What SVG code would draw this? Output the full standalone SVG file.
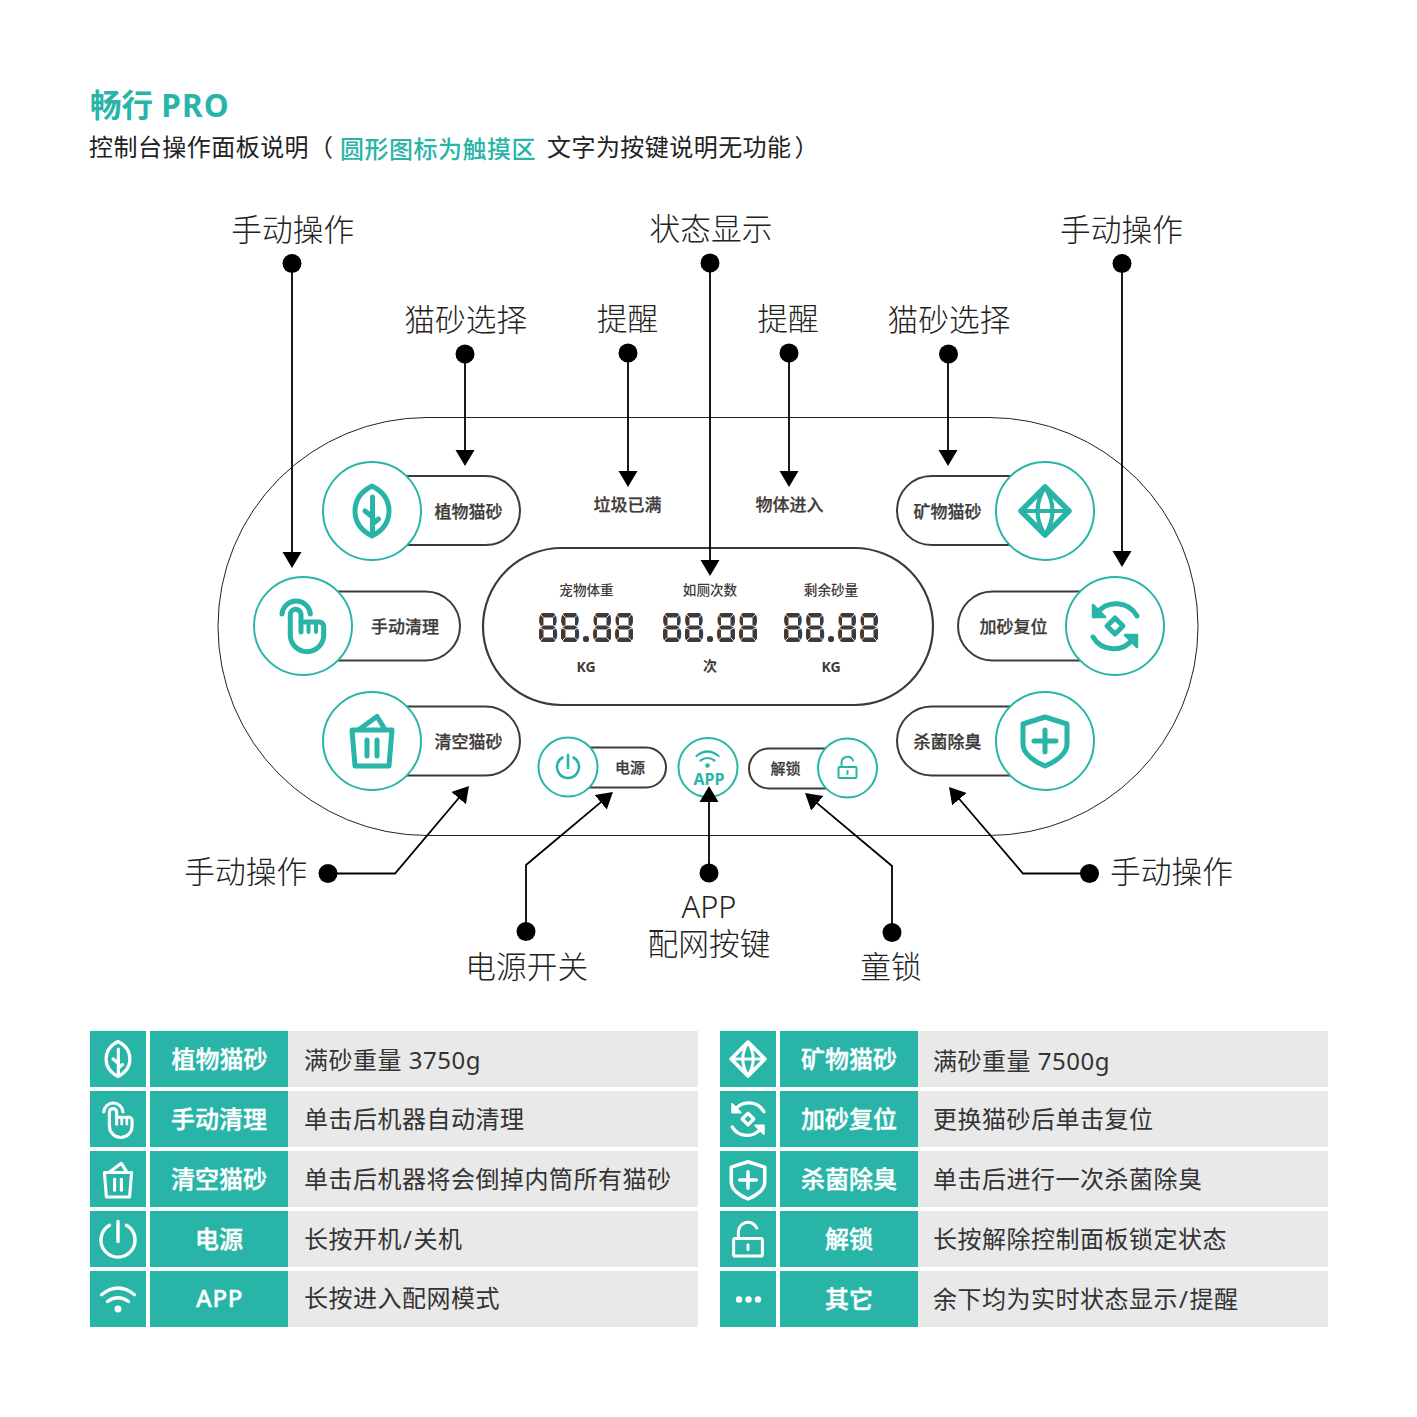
<svg xmlns="http://www.w3.org/2000/svg" width="1417" height="1417" viewBox="0 0 1417 1417">
<style>
text{font-family:"Noto Sans","Noto Sans CJK SC",sans-serif}
.title{font-size:31.5px;font-weight:700;fill:#28b5a8}
.sub{font-size:24px;fill:#222;letter-spacing:.45px}
.subt{font-size:24px;font-weight:500;fill:#28b5a8;letter-spacing:.5px}
.call{font-size:30.7px;font-weight:300;fill:#222;text-anchor:middle}
.pl{font-size:17px;font-weight:500;fill:#3e3a39;stroke:#3e3a39;stroke-width:.25px;text-anchor:middle}
.ps{font-size:15px;font-weight:500;fill:#3e3a39;stroke:#3e3a39;stroke-width:.25px;text-anchor:middle}
.lc{font-size:13.6px;font-weight:500;fill:#3e3a39;text-anchor:middle}
.un{font-size:14px;font-weight:700;fill:#3e3a39;text-anchor:middle}
.lcd{font-family:"DejaVu Sans Mono",monospace;font-size:39px;font-weight:700;fill:#3e3a39;stroke:#3e3a39;stroke-width:2.4px}
.tl{font-size:24px;font-weight:500;fill:#fff;stroke:#fff;stroke-width:.4px;text-anchor:middle}
.td{font-size:24px;fill:#333;letter-spacing:.5px}
.outer{fill:none;stroke:#222;stroke-width:1}
.pill{fill:#fff;stroke:#3e3a39;stroke-width:2}
.lcdb{fill:#fff;stroke:#3e3a39;stroke-width:2.2}
.ring{fill:#fff;stroke:#28b5a8;stroke-width:2}
.ic{--c:#28b5a8;fill:none;stroke:#28b5a8;stroke-width:5;stroke-linecap:round;stroke-linejoin:round}
.tic{--c:#fff;fill:none;stroke:#fff;stroke-width:4.6;stroke-linecap:round;stroke-linejoin:round}
.ahf{fill:var(--c)}
.tif{fill:#fff;stroke:none}
.teal{fill:#28b5a8}
.gray{fill:#e9e9e9}
.con{fill:none;stroke:#000;stroke-width:1.8;marker-end:url(#ah)}
.dot{fill:#000}
.slit{fill:none;stroke:#fff;stroke-width:.9}
.hole{fill:#fff}
</style>
<defs>
<marker id="ah" markerUnits="userSpaceOnUse" markerWidth="20" markerHeight="20" refX="12" refY="10" orient="auto"><path d="M0,0.5 L16,10 L0,19.5Z" fill="#000"/></marker>
<clipPath id="lc"><rect x="0" y="0" width="18.500" height="29"/><rect x="22" y="0" width="18.500" height="29"/><circle cx="47" cy="26" r="3"/><rect x="53.500" y="0" width="18.500" height="29"/><rect x="75.500" y="0" width="18.500" height="29"/></clipPath>
<g id="i-leaf"><path d="M0,-25 C12,-19 17,-10 17,0 C17,10 12,19 0,25 C-12,19 -17,10 -17,0 C-17,-10 -12,-19 0,-25Z"/><path d="M.5,-14 V22 M.5,6 L-7,0 M.5,13 L6.500,8"/></g>
<g id="i-hand"><path d="M-21,-12 A14.2,14.2 0 0 1 7.300,-12"/><path d="M-12.700,9 V-12 A5.400,5.400 0 0 1 -2,-12 V6"/><path d="M-2,-4 H16 A4.700,4.700 0 0 1 20.700,.7 V9 A16.700,16.700 0 0 1 -12.700,9"/><path d="M5.500,-4 V6 M13,-4 V6" stroke-width="4"/></g>
<g id="i-bask"><path d="M-20,-11 H20 L17,25 H-17Z"/><path d="M-13,-11.500 L5,-24.500 L13,-11.500"/><path d="M-5,-1 V15 M5,-1 V15"/></g>
<g id="i-dia"><path d="M0,-24 L24,0 L0,24 L-24,0Z" stroke-width="5.500"/><path d="M0,-24 Q-15,0 0,24 M0,-24 Q15,0 0,24 M-24,0 H24" stroke-width="4.200"/></g>
<g id="i-reset"><path d="M22,-10 A24,24 0 0 0 -18,-13"/><path class="ahf" d="M-22,-21 V-9 H-10Z" stroke-width="2.500"/><path d="M-22,11 A24,24 0 0 0 18,13"/><path class="ahf" d="M22,21 V9 H10Z" stroke-width="2.500"/><path d="M0,-8 L8,0 L0,8 L-8,0Z"/></g>
<g id="i-shield"><path d="M0,-24 L22,-17 V3 C22,13 10,21 0,25 C-10,21 -22,13 -22,3 V-17Z"/><path d="M-11,0 H11 M0,-11 V11"/></g>
<g id="i-power"><path d="M-5.500,-9.500 A11,11 0 1 0 5.500,-9.500"/><path d="M0,-12 V1"/></g>
<g id="i-wifi"><path d="M-11,-9.500 Q0,-18.500 11,-9.500 M-7,-5 Q0,-10 7,-5"/><circle cx="0" cy="0" r="1.200"/></g>
<g id="i-lock"><rect x="-9" y="-1" width="18" height="11" rx="1"/><path d="M-6,-1 V-5 A6,6 0 0 1 5.500,-7.500 M0,3 V6"/></g>
<g id="seg"><rect class="hole" x="4.500" y="4.500" width="9.500" height="8"/><rect class="hole" x="4.500" y="16.500" width="9.500" height="8"/><path class="slit" d="M0,0 L4.500,4.500 M18.500,0 L14,4.500 M0,29 L4.500,24.500 M18.500,29 L14,24.500 M4.500,12.500 L0,14.500 M14,12.500 L18.500,14.500 M4.500,16.500 L0,14.500 M14,16.500 L18.500,14.500"/></g>
<g id="segs"><use href="#seg" x="0"/><use href="#seg" x="22"/><use href="#seg" x="53.500"/><use href="#seg" x="75.500"/></g>
</defs>
<rect width="1417" height="1417" fill="#fff"/>
<g id="header">
<text class="title" x="90" y="117">畅行 <tspan letter-spacing="1.200">PRO</tspan></text>
<text class="sub" x="89" y="156">控制台操作面板说明（</text>
<text class="subt" x="340" y="157.500">圆形图标为触摸区</text>
<text class="sub" x="547" y="156">文字为按键说明无功能<tspan dx="3">）</tspan></text>
</g>
<g id="panel"><rect class="outer" x="218" y="417.500" width="980" height="418" rx="209" ry="209"/></g>
<g id="btn-plant"><rect class="pill" x="372" y="476" width="148" height="69" rx="34.500"/><circle class="ring" cx="372" cy="511" r="49"/><use href="#i-leaf" class="ic" transform="translate(372,511)"/><text class="pl" x="468.500" y="517.700">植物猫砂</text></g>
<g id="btn-manual"><rect class="pill" x="303" y="591.500" width="157" height="69" rx="34.500"/><circle class="ring" cx="303" cy="626" r="49"/><use href="#i-hand" class="ic" transform="translate(303,626)"/><text class="pl" x="405" y="632.700">手动清理</text></g>
<g id="btn-empty"><rect class="pill" x="372" y="706.500" width="148" height="69" rx="34.500"/><circle class="ring" cx="372" cy="741" r="49"/><use href="#i-bask" class="ic" transform="translate(372,741)"/><text class="pl" x="468.500" y="747.700">清空猫砂</text></g>
<g id="btn-mineral"><rect class="pill" x="897" y="476" width="148" height="69" rx="34.500"/><circle class="ring" cx="1045" cy="511" r="49"/><use href="#i-dia" class="ic" transform="translate(1045,511)"/><text class="pl" x="947.500" y="517.700">矿物猫砂</text></g>
<g id="btn-reset"><rect class="pill" x="958" y="591.500" width="157" height="69" rx="34.500"/><circle class="ring" cx="1115" cy="626" r="49"/><use href="#i-reset" class="ic" transform="translate(1115,626)"/><text class="pl" x="1013.500" y="632.700">加砂复位</text></g>
<g id="btn-sterilize"><rect class="pill" x="897" y="706.500" width="148" height="69" rx="34.500"/><circle class="ring" cx="1045" cy="741" r="49"/><use href="#i-shield" class="ic" transform="translate(1045,741)"/><text class="pl" x="947.500" y="747.700">杀菌除臭</text></g>
<g id="lamp-full"><text class="pl" x="627.500" y="510.700">垃圾已满</text></g>
<g id="lamp-object"><text class="pl" x="789.500" y="510.700">物体进入</text></g>
<g id="lcd">
<rect class="lcdb" x="483" y="548" width="450" height="157" rx="78.500"/>
<text class="lc" x="586.500" y="595">宠物体重</text><text class="lc" x="710" y="595">如厕次数</text><text class="lc" x="831" y="595">剩余砂量</text>
<g transform="translate(539,613)"><g clip-path="url(#lc)"><text class="lcd" transform="translate(-1.800,29) scale(.9,1)" x="0 24.400 42.200 60.600 85" y="0">88.88</text></g><use href="#segs"/></g>
<g transform="translate(663,613)"><g clip-path="url(#lc)"><text class="lcd" transform="translate(-1.800,29) scale(.9,1)" x="0 24.400 42.200 60.600 85" y="0">88.88</text></g><use href="#segs"/></g>
<g transform="translate(784,613)"><g clip-path="url(#lc)"><text class="lcd" transform="translate(-1.800,29) scale(.9,1)" x="0 24.400 42.200 60.600 85" y="0">88.88</text></g><use href="#segs"/></g>
<text class="un" x="586" y="672">KG</text><text class="un" x="710" y="671">次</text><text class="un" x="831" y="672">KG</text>
</g>
<g id="btn-power"><rect class="pill" x="568" y="747.500" width="98" height="40" rx="20"/><circle class="ring" cx="568" cy="767" r="29.500"/><use href="#i-power" class="ic" style="stroke-width:2.600" transform="translate(568,767)"/><text class="ps" x="630" y="773">电源</text></g>
<g id="btn-app"><circle class="ring" cx="708" cy="767.500" r="29.500"/><use href="#i-wifi" class="ic" style="stroke-width:2.200" transform="translate(707.500,765.500)"/><text x="709" y="785" font-size="16" font-weight="700" fill="#28b5a8" text-anchor="middle">APP</text></g>
<g id="btn-lock"><rect class="pill" x="749" y="748.500" width="98" height="40" rx="20"/><circle class="ring" cx="847.500" cy="768" r="29.500"/><use href="#i-lock" class="ic" style="stroke-width:2" transform="translate(847.500,768)"/><text class="ps" x="785.500" y="774">解锁</text></g>
<g id="callouts">
<text class="call" x="292.700" y="241">手动操作</text>
<text class="call" x="711" y="240">状态显示</text>
<text class="call" x="1121.500" y="241">手动操作</text>
<text class="call" x="465.700" y="331">猫砂选择</text>
<text class="call" x="627.500" y="330">提醒</text>
<text class="call" x="788" y="330">提醒</text>
<text class="call" x="949" y="331">猫砂选择</text>
<text class="call" x="245.700" y="883">手动操作</text>
<text class="call" x="1171.500" y="883">手动操作</text>
<text class="call" x="526.700" y="978">电源开关</text>
<text class="call" x="709" y="918">APP</text>
<text class="call" x="709" y="955">配网按键</text>
<text class="call" x="891" y="978">童锁</text>
</g>
<g id="connectors">
<path class="con" d="M292,263 V564"/><circle class="dot" cx="292" cy="263.500" r="9.500"/>
<path class="con" d="M710,263 V572"/><circle class="dot" cx="710" cy="263" r="9.500"/>
<path class="con" d="M1122,263 V563"/><circle class="dot" cx="1122" cy="263.500" r="9.500"/>
<path class="con" d="M465,354 V462"/><circle class="dot" cx="465" cy="354" r="9.500"/>
<path class="con" d="M628,353 V483"/><circle class="dot" cx="628" cy="353" r="9.500"/>
<path class="con" d="M789,353 V483"/><circle class="dot" cx="789" cy="353" r="9.500"/>
<path class="con" d="M948,354 V462"/><circle class="dot" cx="948.500" cy="354" r="9.500"/>
<path class="con" d="M328,873.500 H395 L466.400,789"/><circle class="dot" cx="328" cy="873.500" r="9.500"/>
<path class="con" d="M526,931 V865 L609.900,794.600"/><circle class="dot" cx="526" cy="931.500" r="9.500"/>
<path class="con" d="M709,873 V790"/><circle class="dot" cx="709" cy="873" r="9.500"/>
<path class="con" d="M892,932 V866 L808.100,795.600"/><circle class="dot" cx="892" cy="932.500" r="9.500"/>
<path class="con" d="M1089,873.500 H1023 L951.600,790"/><circle class="dot" cx="1089.500" cy="873.500" r="9.500"/>
</g>
<g id="table-left">
<g id="row-plant"><rect class="teal" x="90" y="1031" width="56" height="56"/><rect class="teal" x="150" y="1031" width="138" height="56"/><rect class="gray" x="288" y="1031" width="410" height="56"/><use href="#i-leaf" class="tic" transform="translate(118,1059) scale(.7)"/><text class="tl" x="219.500" y="1068">植物猫砂</text><text class="td" x="304" y="1069">满砂重量 3750g</text></g>
<g id="row-manual"><rect class="teal" x="90" y="1091" width="56" height="56"/><rect class="teal" x="150" y="1091" width="138" height="56"/><rect class="gray" x="288" y="1091" width="410" height="56"/><use href="#i-hand" class="tic" transform="translate(118,1120) scale(.68)"/><text class="tl" x="219" y="1128">手动清理</text><text class="td" x="304" y="1128">单击后机器自动清理</text></g>
<g id="row-empty"><rect class="teal" x="90" y="1151" width="56" height="56"/><rect class="teal" x="150" y="1151" width="138" height="56"/><rect class="gray" x="288" y="1151" width="410" height="56"/><use href="#i-bask" class="tic" transform="translate(118,1180) scale(.68)"/><text class="tl" x="219" y="1188">清空猫砂</text><text class="td" x="304" y="1188">单击后机器将会倒掉内筒所有猫砂</text></g>
<g id="row-power"><rect class="teal" x="90" y="1211" width="56" height="56"/><rect class="teal" x="150" y="1211" width="138" height="56"/><rect class="gray" x="288" y="1211" width="410" height="56"/><use href="#i-power" class="tic" style="stroke-width:2.200" transform="translate(118,1240) scale(1.55)"/><text class="tl" x="219" y="1248">电源</text><text class="td" x="304" y="1248">长按开机<tspan dx="1">/</tspan><tspan dx="1">关机</tspan></text></g>
<g id="row-app"><rect class="teal" x="90" y="1271" width="56" height="56"/><rect class="teal" x="150" y="1271" width="138" height="56"/><rect class="gray" x="288" y="1271" width="410" height="56"/><use href="#i-wifi" class="tic" style="stroke-width:2.200" transform="translate(118,1309) scale(1.5)"/><text class="tl" x="219.500" y="1307" font-weight="700" letter-spacing=".6">APP</text><text class="td" x="304" y="1307">长按进入配网模式</text></g>
</g>
<g id="table-right">
<g id="row-mineral"><rect class="teal" x="720" y="1031" width="56" height="56"/><rect class="teal" x="780" y="1031" width="138" height="56"/><rect class="gray" x="918" y="1031" width="410" height="56"/><use href="#i-dia" class="tic" transform="translate(748,1059) scale(.7)"/><text class="tl" x="849" y="1068">矿物猫砂</text><text class="td" x="933" y="1070">满砂重量 7500g</text></g>
<g id="row-reset"><rect class="teal" x="720" y="1091" width="56" height="56"/><rect class="teal" x="780" y="1091" width="138" height="56"/><rect class="gray" x="918" y="1091" width="410" height="56"/><use href="#i-reset" class="tic" transform="translate(748,1119) scale(.72)"/><text class="tl" x="849" y="1128">加砂复位</text><text class="td" x="933" y="1128">更换猫砂后单击复位</text></g>
<g id="row-sterilize"><rect class="teal" x="720" y="1151" width="56" height="56"/><rect class="teal" x="780" y="1151" width="138" height="56"/><rect class="gray" x="918" y="1151" width="410" height="56"/><use href="#i-shield" class="tic" transform="translate(748,1180) scale(.76)"/><text class="tl" x="849" y="1188">杀菌除臭</text><text class="td" x="933" y="1188">单击后进行一次杀菌除臭</text></g>
<g id="row-lock"><rect class="teal" x="720" y="1211" width="56" height="56"/><rect class="teal" x="780" y="1211" width="138" height="56"/><rect class="gray" x="918" y="1211" width="410" height="56"/><use href="#i-lock" class="tic" style="stroke-width:1.900" transform="translate(748,1240) scale(1.6)"/><text class="tl" x="849" y="1248">解锁</text><text class="td" x="933" y="1248">长按解除控制面板锁定状态</text></g>
<g id="row-other"><rect class="teal" x="720" y="1271" width="56" height="56"/><rect class="teal" x="780" y="1271" width="138" height="56"/><rect class="gray" x="918" y="1271" width="410" height="56"/><circle class="tif" cx="739" cy="1299.500" r="3.200"/><circle class="tif" cx="748.500" cy="1299.500" r="3.200"/><circle class="tif" cx="758" cy="1299.500" r="3.200"/><text class="tl" x="849" y="1308">其它</text><text class="td" x="933" y="1308">余下均为实时状态显示<tspan dx="1">/</tspan><tspan dx="1">提醒</tspan></text></g>
</g>
</svg>
